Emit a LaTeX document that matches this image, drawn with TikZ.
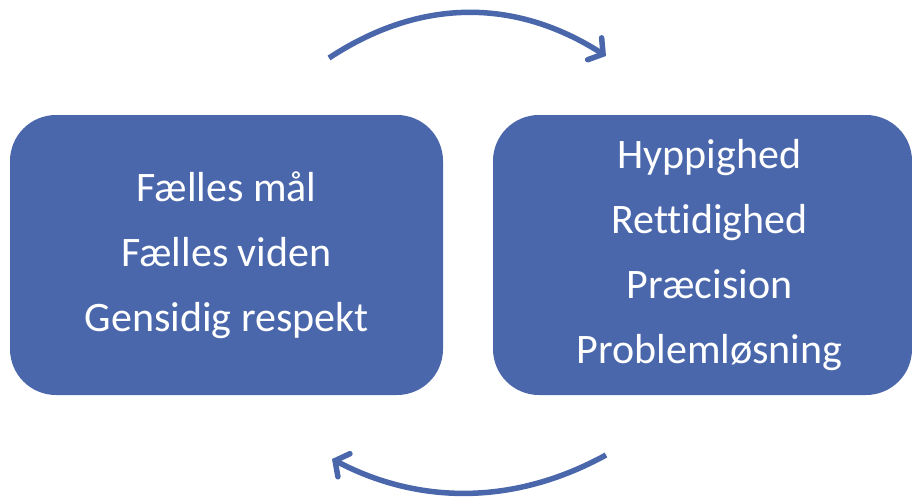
\documentclass[tikz,border=0pt]{standalone}
\usepackage{fontspec}
\setmainfont[Ligatures={NoCommon}]{Carlito}
\usetikzlibrary{arrows.meta}
\definecolor{boxblue}{RGB}{74,103,172}

\begin{document}
\begin{tikzpicture}[x=1pt, y=-1pt,
  cyclebox/.style={draw=none, fill=boxblue, rounded corners=46pt, text=white,
    minimum height=280pt, align=center,
    font=\fontsize{42}{65}\selectfont},
  cyclearrow/.style={draw=boxblue, line width=5.5pt,
    -{Straight Barb[length=10pt, width=26pt, line cap=round]}}]
  \useasboundingbox (0,0) rectangle (912,498);
  \node[cyclebox, minimum width=433pt] (shared) at (226.5,255)
    {Fælles mål\\Fælles viden\\Gensidig respekt};
  \node[cyclebox, minimum width=419pt] (perf) at (702.5,255)
    {\hspace{14pt}Hyppighed\\\hspace{14pt}Rettidighed\\\hspace{14pt}Præcision\\\hspace{14pt}Problemløsning};
  \coordinate (topstart) at (329,58);
  \coordinate (topend) at (606,56);
  \coordinate (botstart) at (606,455);
  \coordinate (botend) at (332,459);
  \draw[cyclearrow] (topstart) .. controls (420,-2) and (515,-2) .. (topend);
  \draw[cyclearrow] (botstart) .. controls (515,505) and (420,505) .. (botend);
\end{tikzpicture}
\end{document}
